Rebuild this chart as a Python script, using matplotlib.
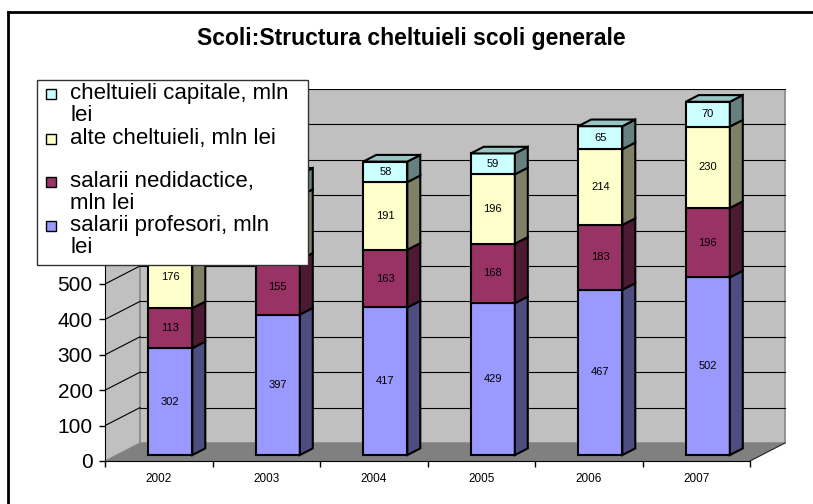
import matplotlib
matplotlib.use("Agg")
import matplotlib.pyplot as plt
from matplotlib.patches import Polygon, Rectangle
from matplotlib.lines import Line2D
import numpy as np

plt.rcParams['font.family'] = ['Liberation Sans', 'DejaVu Sans']

# ---------------- data ----------------
years = ["2002", "2003", "2004", "2005", "2006", "2007"]
salarii_profesori = [302, 397, 417, 429, 467, 502]
salarii_nedidactice = [113, 155, 163, 168, 183, 196]
alte_cheltuieli = [176, 180, 191, 196, 214, 230]
cheltuieli_capitale = [50, 60, 58, 59, 65, 70]

series_names = ["salarii profesori, mln\nlei",
                "salarii nedidactice,\nmln lei",
                "alte cheltuieli, mln lei",
                "cheltuieli capitale, mln\nlei"]
title = "Scoli:Structura cheltuieli scoli generale"

# ---------------- style ----------------
front_cols = ["#9999FF", "#993366", "#FFFFCC", "#CCFFFF"]
side_cols = ["#4D4D80", "#4D1A33", "#808066", "#668080"]
top_col = "#99C4C4"
W, H = 813, 504
DX = 35 / 107.5      # depth offset in category units
DY = 18 / 0.354      # depth offset in value units
F0, F1 = 0.33, 0.70  # bar front/back depth fractions
BW = 0.41
LEG = (37, 80, 308, 265)  # legend box in pixels (x0, y0, x1, y1 from top-left)

def fx(x):
    return x / W

def fy(y):
    return 1 - y / H

fig = plt.figure(figsize=(W / 100, H / 100), dpi=100)
xmax = 6 + DX + 0.02
ax = fig.add_axes([fx(105), fy(461), xmax * 107.5 / W, (461 - 89) / H])
ax.set_xlim(0, xmax)
ax.set_ylim(0, 1000 + DY)
ax.set_facecolor("none")

def under_legend(xd, yd):
    px, py = ax.transData.transform((xd, yd))
    py = H - py
    return LEG[0] - 10 <= px <= LEG[2] + 10 and LEG[1] - 5 <= py <= LEG[3] + 5

# walls and floor
ax.add_patch(Polygon([(0, 0), (DX, DY), (DX, 1000 + DY), (0, 1000)],
                     closed=True, facecolor="#C0C0C0", edgecolor="#909090", lw=1, zorder=0.5))
ax.add_patch(Polygon([(DX, DY), (6 + DX, DY), (6 + DX, 1000 + DY), (DX, 1000 + DY)],
                     closed=True, facecolor="#C0C0C0", edgecolor="#888888", lw=1.2, zorder=0.5))
ax.add_patch(Polygon([(0, 0), (DX, DY), (6 + DX, DY), (6, 0)],
                     closed=True, facecolor="#808080", edgecolor="none", zorder=0.6))
ax.plot([6, 6 + DX], [0, DY], color="#202020", lw=0.8, zorder=0.7)

ticks = np.arange(0, 1001, 100)
for v in ticks[1:]:
    ax.plot([0, DX], [v, v + DY], color="black", lw=0.8, zorder=0.8)
    ax.plot([DX, 6 + DX], [v + DY, v + DY], color="black", lw=0.8, zorder=0.8)

# bars
data = [salarii_profesori, salarii_nedidactice, alte_cheltuieli, cheltuieli_capitale]
n = len(years)
xs = np.arange(n) + 0.5 + F0 * DX
bottom = np.zeros(n)
d = F1 - F0
for k, vals in enumerate(data):
    vals = np.array(vals, dtype=float)
    ax.bar(xs, vals, width=BW, bottom=bottom + F0 * DY, color=front_cols[k],
           edgecolor="black", linewidth=1.5, zorder=2)
    for i in range(n):
        xr = xs[i] + BW / 2
        b = bottom[i] + F0 * DY
        t = b + vals[i]
        ax.add_patch(Polygon([(xr, b), (xr + d * DX, b + d * DY), (xr + d * DX, t + d * DY), (xr, t)],
                             closed=True, facecolor=side_cols[k], edgecolor="black", lw=1.5, zorder=2))
        if not under_legend(xs[i], b + vals[i] / 2):
            ax.text(xs[i], b + vals[i] / 2, str(int(vals[i])), ha="center", va="center",
                    fontsize=8, color="black", zorder=3)
        if k == len(data) - 1:
            xl = xs[i] - BW / 2
            ax.add_patch(Polygon([(xl, t), (xr, t), (xr + d * DX, t + d * DY), (xl + d * DX, t + d * DY)],
                                 closed=True, facecolor=top_col, edgecolor="black", lw=1.5, zorder=2))
    bottom = bottom + vals

# axes
for s in ["top", "right"]:
    ax.spines[s].set_visible(False)
ax.spines["left"].set_bounds(0, 1000)
ax.spines["bottom"].set_bounds(0, 6)
ax.spines["left"].set_zorder(3)
ax.spines["bottom"].set_zorder(3)
ax.set_yticks(ticks)
# tick labels 600..1000 sit behind the legend in the reference
ax.set_yticklabels([str(v) if not under_legend(-0.3, v) else "" for v in ticks])
ax.tick_params(axis="y", direction="out", length=4, width=1, labelsize=15, pad=5)
ax.set_xticks(range(n + 1))
ax.set_xticklabels([""] * (n + 1))
ax.tick_params(axis="x", which="major", direction="out", length=4, width=1)
ax.set_xticks(np.arange(n) + 0.5, minor=True)
ax.set_xticklabels(years, minor=True)
ax.tick_params(axis="x", which="minor", length=0, pad=9, labelsize=8.5)

# title
fig.text(fx(411), fy(38), title, ha="center", va="center", fontsize=16.5, fontweight="bold")

# legend (drawn above axes)
fig.add_artist(Rectangle((fx(LEG[0]), fy(LEG[3])), (LEG[2] - LEG[0]) / W, (LEG[3] - LEG[1]) / H,
                         transform=fig.transFigure, facecolor="white", edgecolor="#333333",
                         lw=1, zorder=5))
leg_order = [3, 2, 1, 0]
leg_y = [94, 139, 182, 226]
for yy, k in zip(leg_y, leg_order):
    fig.add_artist(Rectangle((fx(46), fy(yy + 5)), 10 / W, 10 / H, transform=fig.transFigure,
                             facecolor=front_cols[k], edgecolor="black", lw=1, zorder=6))
    fig.text(fx(70), fy(yy - 11), series_names[k], ha="left", va="top",
             fontsize=16, linespacing=1.05, zorder=6)

# outer chart border (top and left visible)
fig.add_artist(Line2D([fx(8), 1.01], [fy(12), fy(12)], transform=fig.transFigure,
                      color="black", lw=2, zorder=7))
fig.add_artist(Line2D([fx(8), fx(8)], [fy(12), -0.01], transform=fig.transFigure,
                      color="black", lw=2, zorder=7))

fig.savefig("out.png", dpi=100)
